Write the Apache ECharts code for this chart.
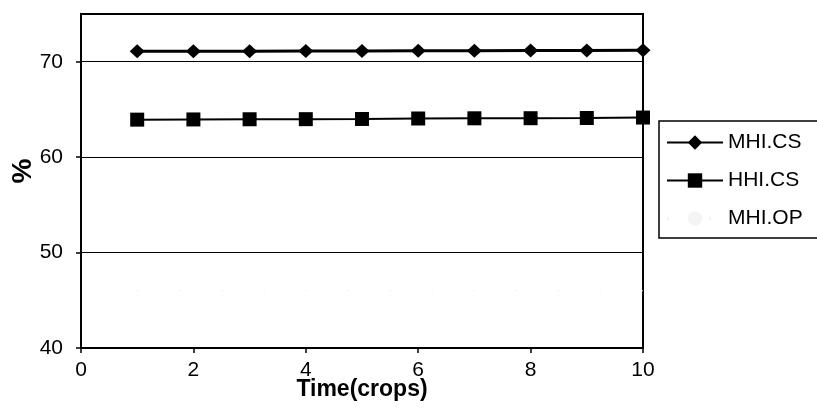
<!DOCTYPE html>
<html>
<head>
<meta charset="utf-8">
<script src="https://cdn.jsdelivr.net/npm/echarts@6/dist/echarts.min.js"></script>
<style>html,body{margin:0;padding:0;background:#fff;}#c{width:817px;height:408px;}</style>
</head>
<body>
<div id="c"></div>
<script>
const crops = [1, 2, 3, 4, 5, 6, 7, 8, 9, 10];
const mhiCS = [71.1, 71.1, 71.1, 71.12, 71.12, 71.15, 71.15, 71.17, 71.18, 71.2];
const hhiCS = [63.93, 63.95, 63.97, 63.98, 64.0, 64.05, 64.07, 64.08, 64.1, 64.15];
const mhiOP = [46, 46, 46, 46, 46, 46, 46, 46, 46, 46];
const seriesNames = ['MHI.CS', 'HHI.CS', 'MHI.OP'];
const yTicks = [40, 50, 60, 70];
const xTicks = [0, 2, 4, 6, 8, 10];

const pairs = arr => crops.map((c, i) => [c, arr[i]]);
const font = 'Liberation Sans, Arial, sans-serif';
const chart = echarts.init(document.getElementById('c'), null, {renderer: 'canvas'});
chart.setOption({
  animation: false,
  backgroundColor: '#fff',
  grid: {left: 81, right: 174, top: 14, bottom: 60, show: true, borderColor: '#000', borderWidth: 2,
         containLabel: false, outerBoundsMode: 'none'},
  legend: {
    orient: 'vertical', left: 659, top: 121,
    itemWidth: 56, itemHeight: 18, itemGap: 17,
    padding: [11, 20, 9, 7],
    borderColor: '#000', borderWidth: 1.5, backgroundColor: '#fff',
    textStyle: {fontFamily: font, fontSize: 21, color: '#000'},
    data: seriesNames
  },
  xAxis: {
    type: 'value', min: 0, max: 10, interval: 2,
    name: 'Time(crops)', nameLocation: 'middle', nameGap: 30, nameMoveOverlap: false,
    nameTextStyle: {fontFamily: font, fontSize: 23, fontWeight: 'bold', color: '#000'},
    axisLine: {show: true, lineStyle: {color: '#000', width: 2}},
    axisTick: {show: true, inside: false, length: 5, customValues: xTicks, lineStyle: {color: '#000', width: 1.5}},
    axisLabel: {fontFamily: font, fontSize: 21, color: '#000', margin: 12, customValues: xTicks},
    splitLine: {show: false}
  },
  yAxis: {
    type: 'value', min: 40, max: 75, interval: 10,
    name: '%', nameLocation: 'middle', nameGap: 44, nameRotate: 90, nameMoveOverlap: false,
    nameTextStyle: {fontFamily: font, fontSize: 28, fontWeight: 'bold', color: '#000', padding: [0, 0, 0, 20]},
    axisLine: {show: true, lineStyle: {color: '#000', width: 2}},
    axisTick: {show: true, inside: false, length: 5, customValues: yTicks, lineStyle: {color: '#000', width: 1.5}},
    axisLabel: {fontFamily: font, fontSize: 21, color: '#000', margin: 18, customValues: yTicks,
      formatter: v => yTicks.indexOf(v) >= 0 ? String(v) : ''},
    splitLine: {show: true, lineStyle: {color: '#000', width: 1}}
  },
  series: [
    {name: seriesNames[0], type: 'line', data: pairs(mhiCS), symbol: 'diamond', symbolSize: [15, 14],
     itemStyle: {color: '#000'}, lineStyle: {color: '#000', width: 3}},
    {name: seriesNames[1], type: 'line', data: pairs(hhiCS), symbol: 'rect', symbolSize: 14,
     itemStyle: {color: '#000'}, lineStyle: {color: '#000', width: 2}},
    {name: seriesNames[2], type: 'line', data: pairs(mhiOP), symbol: 'none',
     itemStyle: {color: '#f4f4f4'}, lineStyle: {color: '#eeeeee', width: 1, type: [2, 40]}}
  ]
});
</script>
</body>
</html>
